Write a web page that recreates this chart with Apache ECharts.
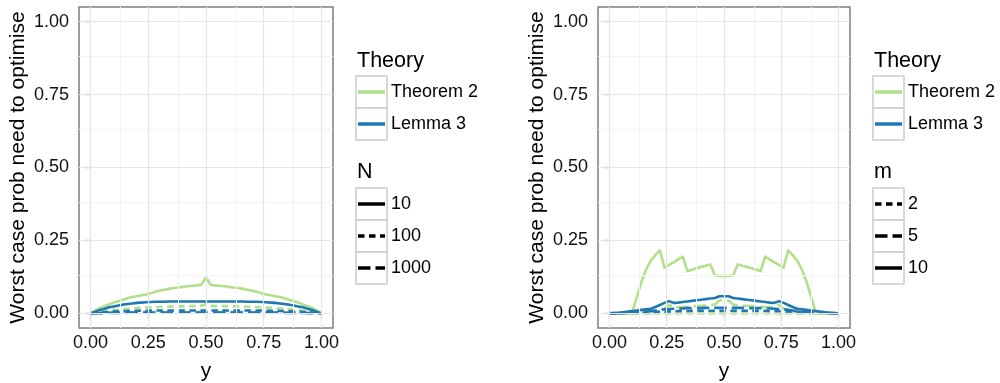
<!DOCTYPE html>
<html>
<head>
<meta charset="utf-8">
<script src="https://cdn.jsdelivr.net/npm/echarts@6/dist/echarts.min.js"></script>
<style>
html,body{margin:0;padding:0;background:#fff;}
#chart{width:1000px;height:383px;}
</style>
</head>
<body>
<div id="chart"></div>
<script>
// ---- data ----
const yValues = [0,0.02,0.04,0.06,0.08,0.10,0.12,0.14,0.16,0.18,0.20,0.22,0.24,0.26,0.28,0.30,0.32,0.34,0.36,0.38,0.40,0.42,0.44,0.46,0.48,0.50,0.52,0.54,0.56,0.58,0.60,0.62,0.64,0.66,0.68,0.70,0.72,0.74,0.76,0.78,0.80,0.82,0.84,0.86,0.88,0.90,0.92,0.94,0.96,0.98,1.00];

// Left panel (by N)
const leftTheorem2_N10   = [0,0.010,0.018,0.025,0.031,0.037,0.042,0.047,0.052,0.056,0.059,0.062,0.065,0.069,0.074,0.078,0.081,0.084,0.087,0.089,0.091,0.093,0.095,0.096,0.098,0.123,0.098,0.096,0.095,0.093,0.091,0.089,0.087,0.084,0.081,0.078,0.074,0.069,0.065,0.062,0.059,0.056,0.052,0.047,0.042,0.037,0.031,0.025,0.018,0.010,0];
const leftLemma3_N10     = [0,0.006,0.012,0.016,0.021,0.024,0.027,0.030,0.032,0.034,0.036,0.037,0.038,0.039,0.040,0.040,0.040,0.041,0.041,0.041,0.041,0.041,0.041,0.041,0.041,0.041,0.041,0.041,0.041,0.041,0.041,0.041,0.041,0.041,0.040,0.040,0.040,0.039,0.038,0.037,0.036,0.034,0.032,0.030,0.027,0.024,0.021,0.016,0.012,0.006,0];
const leftTheorem2_N100  = [0,0.003,0.006,0.008,0.010,0.012,0.013,0.015,0.016,0.017,0.018,0.019,0.020,0.021,0.022,0.022,0.023,0.023,0.024,0.024,0.024,0.025,0.025,0.025,0.026,0.031,0.026,0.025,0.025,0.025,0.024,0.024,0.024,0.023,0.023,0.022,0.022,0.021,0.020,0.019,0.018,0.017,0.016,0.015,0.013,0.012,0.010,0.008,0.006,0.003,0];
const leftLemma3_N100    = [0,0.002,0.003,0.004,0.005,0.006,0.007,0.007,0.008,0.008,0.009,0.009,0.009,0.010,0.010,0.010,0.010,0.010,0.010,0.010,0.010,0.010,0.010,0.010,0.010,0.010,0.010,0.010,0.010,0.010,0.010,0.010,0.010,0.010,0.010,0.010,0.010,0.010,0.009,0.009,0.009,0.008,0.008,0.007,0.007,0.006,0.005,0.004,0.003,0.002,0];
const leftTheorem2_N1000 = [0,0.001,0.002,0.002,0.003,0.003,0.003,0.004,0.004,0.004,0.004,0.004,0.005,0.005,0.005,0.005,0.005,0.005,0.005,0.005,0.005,0.005,0.005,0.005,0.005,0.006,0.005,0.005,0.005,0.005,0.005,0.005,0.005,0.005,0.005,0.005,0.005,0.005,0.005,0.004,0.004,0.004,0.004,0.004,0.003,0.003,0.003,0.002,0.002,0.001,0];
const leftLemma3_N1000   = [0,0.001,0.001,0.001,0.002,0.002,0.002,0.002,0.002,0.003,0.003,0.003,0.003,0.003,0.003,0.003,0.003,0.003,0.003,0.003,0.003,0.003,0.003,0.003,0.003,0.003,0.003,0.003,0.003,0.003,0.003,0.003,0.003,0.003,0.003,0.003,0.003,0.003,0.003,0.003,0.003,0.003,0.002,0.002,0.002,0.002,0.002,0.001,0.001,0.001,0];

// Right panel (by m)
const rightTheorem2_m10 = [0,0,0,0,0,0.005,0.057,0.110,0.150,0.180,0.200,0.216,0.157,0.166,0.175,0.185,0.195,0.145,0.150,0.155,0.159,0.163,0.168,0.131,0.128,0.128,0.128,0.131,0.168,0.163,0.159,0.155,0.150,0.145,0.195,0.185,0.175,0.166,0.157,0.216,0.200,0.180,0.150,0.110,0.057,0.005,0,0,0,0,0];
const rightLemma3_m10   = [0,0.001,0.002,0.004,0.006,0.008,0.010,0.012,0.014,0.016,0.022,0.029,0.036,0.042,0.036,0.037,0.039,0.041,0.043,0.045,0.047,0.049,0.051,0.053,0.059,0.059,0.059,0.053,0.051,0.049,0.047,0.045,0.043,0.041,0.039,0.037,0.036,0.042,0.036,0.029,0.022,0.016,0.014,0.012,0.010,0.008,0.006,0.004,0.002,0.001,0];
const rightTheorem2_m5  = [0,0,0,0,0,0,0,0,0,0,0.006,0.012,0.016,0.030,0.020,0.021,0.022,0.023,0.024,0.025,0.026,0.027,0.028,0.030,0.044,0.046,0.044,0.030,0.028,0.027,0.026,0.025,0.024,0.023,0.022,0.021,0.020,0.030,0.016,0.012,0.006,0,0,0,0,0,0,0,0,0,0];
const rightLemma3_m5    = [0,0.001,0.001,0.002,0.003,0.004,0.005,0.006,0.007,0.008,0.010,0.012,0.014,0.015,0.016,0.017,0.017,0.018,0.018,0.018,0.018,0.019,0.019,0.019,0.019,0.019,0.019,0.019,0.019,0.019,0.018,0.018,0.018,0.018,0.017,0.017,0.016,0.015,0.014,0.012,0.010,0.008,0.007,0.006,0.005,0.004,0.003,0.002,0.001,0.001,0];
const rightTheorem2_m2  = [0,0,0,0,0,0,0,0,0,0,0,0,0,0,0,0,0,0,0,0,0,0,0,0,0,0,0,0,0,0,0,0,0,0,0,0,0,0,0,0,0,0,0,0,0,0,0,0,0,0,0];
const rightLemma3_m2    = [0,0,0.001,0.001,0.002,0.002,0.003,0.003,0.004,0.004,0.005,0.006,0.006,0.007,0.007,0.008,0.008,0.008,0.009,0.009,0.009,0.009,0.009,0.009,0.009,0.009,0.009,0.009,0.009,0.009,0.009,0.009,0.009,0.009,0.009,0.008,0.008,0.008,0.007,0.007,0.006,0.006,0.005,0.004,0.004,0.003,0.003,0.002,0.002,0.001,0,0];

const tickValues = [0, 0.25, 0.5, 0.75, 1];
const minorValues = [0.125, 0.375, 0.625, 0.875];
const theoryLabels = ['Theorem 2', 'Lemma 3'];
const leftLegendTitle = 'N';
const leftLegendLabels = ['10', '100', '1000'];
const rightLegendTitle = 'm';
const rightLegendLabels = ['2', '5', '10'];
const yTitle = 'Worst case prob need to optimise';
const xTitle = 'y';

// ---- styles ----
const GREEN = '#b2df8a', BLUE = '#1f78b4';
const FONT = 'Liberation Sans, Arial, Helvetica, sans-serif';
const DOT = [6.5, 4.5], DASH = [12.5, 5];
const LW = 2.6;
const TICK_FS = 18, TITLE_FS = 21, LEG_TITLE_FS = 21.5, LEG_FS = 18;

function pairs(vals){ return yValues.map((x,i)=>[x, vals[i]]); }

const grids = [
  {left:79, top:7, width:254, height:321},
  {left:598, top:7, width:252, height:321}
];

function xAxisFor(i){
  return {
    gridIndex:i, type:'value', min:-0.05, max:1.05,
    axisLine:{show:false},
    axisTick:{show:true, customValues:tickValues, length:5, lineStyle:{color:'#333', width:1.2}},
    axisLabel:{customValues:tickValues, formatter:v=>v.toFixed(2), fontSize:TICK_FS, color:'#111', margin:6, fontFamily:FONT},
    splitLine:{show:false},
    name:xTitle, nameLocation:'middle', nameGap:33,
    nameTextStyle:{fontSize:TITLE_FS, color:'#000', fontFamily:FONT}
  };
}
function yAxisFor(i){
  return {
    gridIndex:i, type:'value', min:-0.05, max:1.05,
    axisLine:{show:false},
    axisTick:{show:true, customValues:tickValues, length:5, lineStyle:{color:'#333', width:1.2}},
    axisLabel:{customValues:tickValues, formatter:v=>v.toFixed(2), fontSize:TICK_FS, color:'#111', margin:10, fontFamily:FONT},
    splitLine:{show:false},
    name:yTitle, nameLocation:'middle', nameGap:50,
    nameTextStyle:{fontSize:TITLE_FS, color:'#000', fontFamily:FONT}
  };
}

function gridLineSeries(i){
  const d = [];
  minorValues.forEach(v=>{
    d.push({xAxis:v, lineStyle:{color:'#f4f4f4', width:1, type:'solid'}});
    d.push({yAxis:v, lineStyle:{color:'#f4f4f4', width:1, type:'solid'}});
  });
  tickValues.forEach(v=>{
    d.push({xAxis:v, lineStyle:{color:'#e5e5e5', width:1.2, type:'solid'}});
    d.push({yAxis:v, lineStyle:{color:'#e5e5e5', width:1.2, type:'solid'}});
  });
  return {
    type:'line', xAxisIndex:i, yAxisIndex:i, data:[[0,0]], showSymbol:false,
    lineStyle:{width:0}, silent:true, z:1, animation:false,
    markLine:{silent:true, symbol:['none','none'], label:{show:false}, animation:false, data:d}
  };
}

function lineSeries(i, vals, color, dash){
  return {
    type:'line', xAxisIndex:i, yAxisIndex:i, data:pairs(vals),
    showSymbol:false, symbol:'none', smooth:false, animation:false, z:3,
    lineStyle:{color:color, width:LW, type:dash || 'solid', cap:'butt', join:'round'}
  };
}

const series = [
  gridLineSeries(0), gridLineSeries(1),
  lineSeries(0, leftTheorem2_N1000, GREEN, DASH),
  lineSeries(0, leftTheorem2_N100, GREEN, DOT),
  lineSeries(0, leftTheorem2_N10, GREEN),
  lineSeries(0, leftLemma3_N1000, BLUE, DASH),
  lineSeries(0, leftLemma3_N100, BLUE, DOT),
  lineSeries(0, leftLemma3_N10, BLUE),
  lineSeries(1, rightTheorem2_m2, GREEN, DOT),
  lineSeries(1, rightTheorem2_m5, GREEN, DASH),
  lineSeries(1, rightTheorem2_m10, GREEN),
  lineSeries(1, rightLemma3_m2, BLUE, DOT),
  lineSeries(1, rightLemma3_m5, BLUE, DASH),
  lineSeries(1, rightLemma3_m10, BLUE)
];

function legendGraphics(x0, title2, labels2, dashes2){
  const g = [];
  const keyW = 31, keyH = 32;
  g.push({type:'text', x:x0+1, y:61, style:{text:'Theory', fontSize:LEG_TITLE_FS, fill:'#000', fontFamily:FONT, verticalAlign:'middle'}});
  const cols = [GREEN, BLUE];
  theoryLabels.forEach((lab,k)=>{
    const y = 76 + k*keyH;
    g.push({type:'rect', shape:{x:x0, y:y, width:keyW, height:keyH}, style:{fill:'#fff', stroke:'#cccccc', lineWidth:1.5}});
    g.push({type:'line', shape:{x1:x0+2, y1:y+keyH/2, x2:x0+keyW-2, y2:y+keyH/2}, style:{stroke:cols[k], lineWidth:3.5}});
    g.push({type:'text', x:x0+35, y:y+keyH/2, style:{text:lab, fontSize:LEG_FS, fill:'#000', fontFamily:FONT, verticalAlign:'middle'}});
  });
  g.push({type:'text', x:x0+1, y:172, style:{text:title2, fontSize:LEG_TITLE_FS, fill:'#000', fontFamily:FONT, verticalAlign:'middle'}});
  labels2.forEach((lab,k)=>{
    const y = 188 + k*keyH;
    g.push({type:'rect', shape:{x:x0, y:y, width:keyW, height:keyH}, style:{fill:'#fff', stroke:'#cccccc', lineWidth:1.5}});
    g.push({type:'line', shape:{x1:x0+2, y1:y+keyH/2, x2:x0+keyW-2, y2:y+keyH/2}, style:{stroke:'#000', lineWidth:3.5, lineDash:dashes2[k], lineCap:'butt'}});
    g.push({type:'text', x:x0+35, y:y+keyH/2, style:{text:lab, fontSize:LEG_FS, fill:'#000', fontFamily:FONT, verticalAlign:'middle'}});
  });
  return g;
}

const chart = echarts.init(document.getElementById('chart'), null, {renderer:'canvas'});
chart.setOption({
  backgroundColor:'#fff',
  animation:false,
  textStyle:{fontFamily:FONT},
  grid: grids.map(g=>Object.assign({show:true, backgroundColor:'#fff', borderColor:'#7f7f7f', borderWidth:1.5, containLabel:false, outerBoundsMode:'none'}, g)),
  xAxis:[xAxisFor(0), xAxisFor(1)],
  yAxis:[yAxisFor(0), yAxisFor(1)],
  series: series,
  graphic: [].concat(
    legendGraphics(356, leftLegendTitle, leftLegendLabels, [null, DOT, DASH]),
    legendGraphics(873, rightLegendTitle, rightLegendLabels, [DOT, DASH, null])
  )
});
</script>
</body>
</html>
